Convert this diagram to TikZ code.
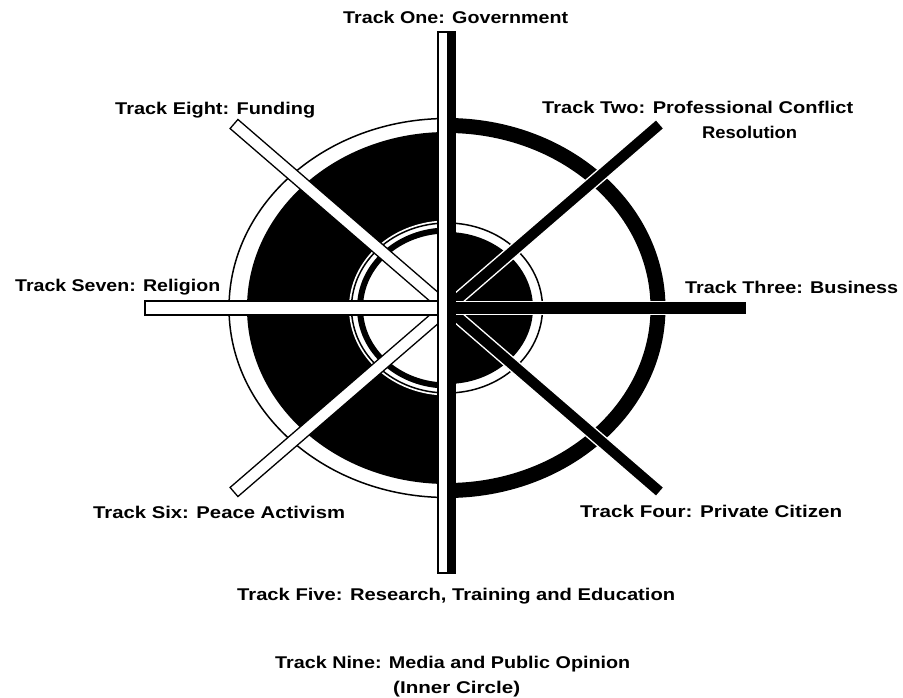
\documentclass[tikz,border=0pt]{standalone}
\usepackage{fontspec}
\usepackage{graphicx}
\usetikzlibrary{calc}
\newfontfamily\labfont{Liberation Sans}
\newcommand\fitlab[2]{\resizebox{#1}{\height}{#2}}
\newcommand\drawspoke[5]{%
  \filldraw[fill=#4,draw=#5,line width=1.3pt]
    ($(#1)!#3!90:(#2)$) -- ($(#2)!#3!-90:(#1)$) --
    ($(#2)!#3!90:(#1)$) -- ($(#1)!#3!-90:(#2)$) -- cycle;}
\tikzset{
  lab/.style={anchor=base west, inner sep=0pt, font=\labfont\bfseries\fontsize{17}{20}\selectfont},
  thinring/.style={draw=black, line width=1.5pt},
}
\begin{document}
\begin{tikzpicture}[x=1pt,y=-1pt]
\useasboundingbox[fill=white] (0,0) rectangle (903,698);
\coordinate (C) at (447,308);
% ---------- left half ----------
\begin{scope}
  \clip (0,0) rectangle (447,698);
  \fill[white] (C) ellipse [x radius=219pt, y radius=190pt];
  \draw[thinring] (C) ellipse [x radius=218pt, y radius=189.5pt];
  \fill[black] (C) ellipse [x radius=200pt, y radius=176pt];
  \fill[white] (C) ellipse [x radius=98pt, y radius=87.5pt];
  \draw[thinring] (C) ellipse [x radius=95.5pt, y radius=85pt];
  \draw[line width=6pt] (C) ellipse [x radius=87pt, y radius=77.5pt];
\end{scope}
% ---------- right half ----------
\begin{scope}
  \clip (447,0) rectangle (903,698);
  \draw[line width=15pt] (C) ellipse [x radius=211pt, y radius=182.5pt];
  \draw[thinring] (C) ellipse [x radius=95.5pt, y radius=85pt];
  \fill[black] (C) ellipse [x radius=86pt, y radius=76pt];
\end{scope}
% ---------- spokes ----------
\coordinate (E8) at (234,124);
\coordinate (E2) at (660,124);
\coordinate (E6) at (234,492);
\coordinate (E4) at (660,492);
\coordinate (E7) at (145,308);
\coordinate (E3) at (747,308);
\drawspoke{C}{E8}{6pt}{white}{black}
\drawspoke{C}{E6}{6pt}{white}{black}
\drawspoke{C}{E2}{6pt}{black}{white}
\drawspoke{C}{E4}{6pt}{black}{white}
\drawspoke{C}{E7}{7pt}{white}{black}
\drawspoke{C}{E3}{6.5pt}{black}{white}
% vertical spoke
\filldraw[fill=white,draw=black,line width=1.3pt] (438,32) rectangle (448,573);
\fill[black] (446.5,31.35) rectangle (455.5,573.65);
% ---------- labels ----------
\node[lab] (t1) at (343,24) {\fitlab{225pt}{Track One: Government}};
\node[lab] (t8) at (115,115) {\fitlab{200pt}{Track Eight: Funding}};
\node[lab] (t2) at (542,114) {\fitlab{311pt}{Track Two: Professional Conflict}};
\node[lab] (t2b) at (702,139) {\fitlab{95pt}{Resolution}};
\node[lab] (t7) at (15,291) {\fitlab{205pt}{Track Seven: Religion}};
\node[lab] (t3) at (685,293) {\fitlab{213pt}{Track Three: Business}};
\node[lab] (t6) at (93,518) {\fitlab{252pt}{Track Six: Peace Activism}};
\node[lab] (t4) at (580,517) {\fitlab{262pt}{Track Four: Private Citizen}};
\node[lab] (t5) at (237,600) {\fitlab{438pt}{Track Five: Research, Training and Education}};
\node[lab] (t9) at (275,668) {\fitlab{355pt}{Track Nine: Media and Public Opinion}};
\node[lab] (t9b) at (393,693) {\fitlab{127pt}{(Inner Circle)}};
\end{tikzpicture}
\end{document}
